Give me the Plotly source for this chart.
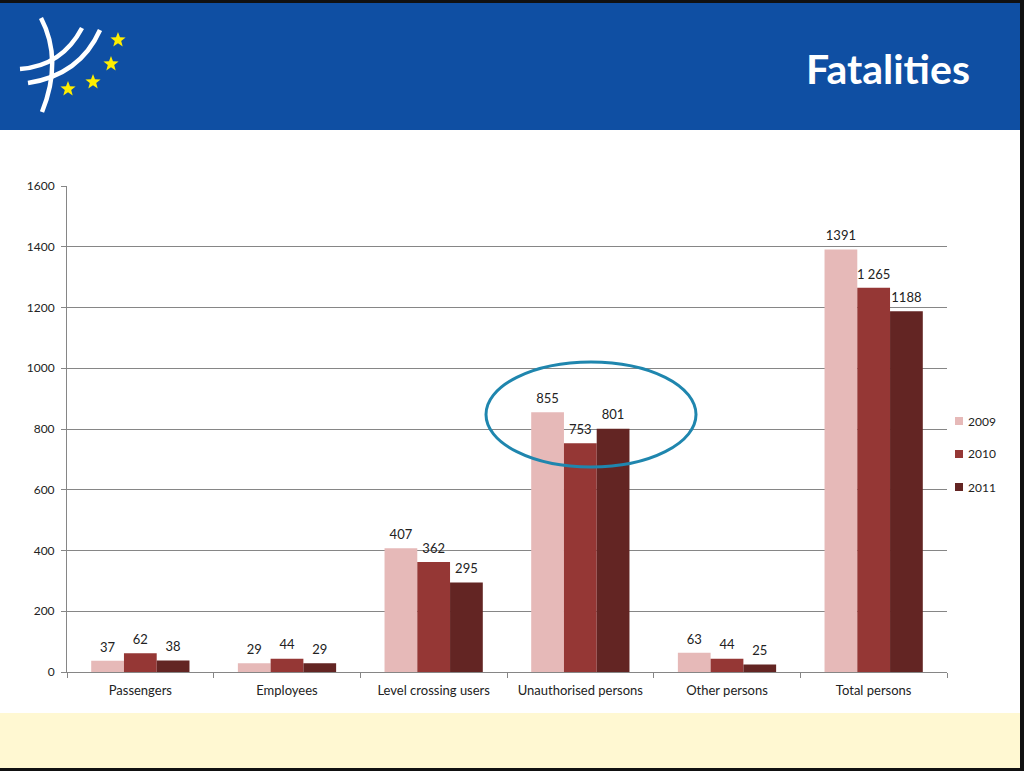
import plotly.graph_objects as go
import math

categories = ["Passengers", "Employees", "Level crossing users",
              "Unauthorised persons", "Other persons", "Total persons"]
years = ["2009", "2010", "2011"]
v2009 = [37, 29, 407, 855, 63, 1391]
v2010 = [62, 44, 362, 753, 44, 1265]
v2011 = [38, 29, 295, 801, 25, 1188]
t2009 = ["37", "29", "407", "855", "63", "1391"]
t2010 = ["62", "44", "362", "753", "44", "1 265"]
t2011 = ["38", "29", "295", "801", "25", "1188"]
colors = ["#E6B9B8", "#953735", "#632523"]
y_ticks = [0, 200, 400, 600, 800, 1000, 1200, 1400, 1600]

W, H = 1024, 771
L, R, T, B = 67, 947, 186, 672
FONT = "Lato"

def px(x):
    return (x - L) / (R - L)

def py(y):
    return (B - y) / (B - T)

fig = go.Figure()
for name, vals, c in zip(years, [v2009, v2010, v2011], colors):
    fig.add_trace(go.Bar(
        x=categories, y=vals, name=name, marker_color=c,
        marker_line_width=0, offsetgroup=name, showlegend=False,
    ))
for name, vals, txt in zip(years, [v2009, v2010, v2011], [t2009, t2010, t2011]):
    fig.add_trace(go.Scatter(
        x=categories, y=vals, text=txt, mode="markers+text", textposition="top center",
        marker=dict(size=8, color="rgba(0,0,0,0)"), hoverinfo="skip",
        offsetgroup=name, cliponaxis=False, showlegend=False,
        textfont=dict(size=13, color="#222", family=FONT),
    ))

shapes = []
annotations = []
# black frame edges
shapes.append(dict(type="rect", xref="paper", yref="paper", x0=px(0), x1=px(W), y0=py(0), y1=py(3),
                   fillcolor="#111", line_width=0, layer="below"))
shapes.append(dict(type="rect", xref="paper", yref="paper", x0=px(1020), x1=px(W), y0=py(0), y1=py(H),
                   fillcolor="#111", line_width=0, layer="below"))
# header band
shapes.append(dict(type="rect", xref="paper", yref="paper", x0=px(0), x1=px(1020), y0=py(3), y1=py(130),
                   fillcolor="#0F4FA3", line_width=0, layer="below"))
# footer band
shapes.append(dict(type="rect", xref="paper", yref="paper", x0=px(0), x1=px(1020), y0=py(713), y1=py(768),
                   fillcolor="#FFF8D2", line_width=0, layer="below"))
shapes.append(dict(type="rect", xref="paper", yref="paper", x0=px(0), x1=px(W), y0=py(768), y1=py(H),
                   fillcolor="#111", line_width=0, layer="below"))

def P(x, y):
    return f"{px(x):.5f},{py(y):.5f}"

# logo white strokes
strokes = [
    f"M{P(41,18)} Q{P(63,60)} {P(42,112)}",
    f"M{P(20,69)} Q{P(62,66)} {P(82,28)}",
    f"M{P(28,83)} Q{P(80,75)} {P(100,30)}",
]
for s in strokes:
    shapes.append(dict(type="path", xref="paper", yref="paper", path=s,
                       line=dict(color="white", width=4.5)))

def star(cx, cy, r):
    pts = []
    for i in range(10):
        ang = -math.pi / 2 + i * math.pi / 5
        rr = r if i % 2 == 0 else r * 0.42
        pts.append(P(cx + rr * math.cos(ang), cy + rr * math.sin(ang)))
    return "M" + " L".join(pts) + " Z"

for (cx, cy) in [(118, 40), (111, 64), (93, 82), (68, 89)]:
    shapes.append(dict(type="path", xref="paper", yref="paper", path=star(cx, cy, 8),
                       fillcolor="#FFEE00", line_width=0))

# highlight ellipse
shapes.append(dict(type="circle", xref="paper", yref="paper",
                   x0=px(486), x1=px(696), y0=py(362), y1=py(467),
                   line=dict(color="#1F86AE", width=3)))

# legend (manual)
for i, (name, c) in enumerate(zip(years, colors)):
    yc = 421 + 33 * i
    shapes.append(dict(type="rect", xref="paper", yref="paper",
                       x0=px(955), x1=px(963), y0=py(yc - 4), y1=py(yc + 4),
                       fillcolor=c, line_width=0))
    annotations.append(dict(text=name, xref="paper", yref="paper", x=px(966), y=py(yc),
                            xanchor="left", yanchor="middle", showarrow=False,
                            font=dict(size=12, color="#222", family=FONT)))

annotations.append(dict(text="<b>Fatalities</b>", xref="paper", yref="paper",
                        x=px(972), y=py(68), xanchor="right", yanchor="middle",
                        showarrow=False, font=dict(size=41, color="white", family=FONT)))

fig.update_layout(
    width=W, height=H,
    margin=dict(l=L, r=W - R, t=T, b=H - B, pad=0, autoexpand=False),
    paper_bgcolor="white", plot_bgcolor="white",
    barmode="group", bargap=0.33, bargroupgap=0,
    scattermode="group", scattergap=0.33,
    font=dict(family=FONT, size=12, color="#222"),
    shapes=shapes, annotations=annotations,
    showlegend=False, hovermode=False,
)
fig.update_xaxes(showline=True, linecolor="#868686", linewidth=1, ticks="outside",
                 tickson="boundaries", ticklen=5, tickcolor="#868686",
                 tickfont=dict(size=13, family=FONT, color="#222"), showgrid=False,
                 ticklabelstandoff=6)
fig.update_yaxes(range=[0, 1600], tickvals=y_ticks, showline=True, linecolor="#868686",
                 linewidth=1, ticks="outside", ticklen=5, tickcolor="#868686",
                 gridcolor="#868686", gridwidth=1, zeroline=False,
                 tickfont=dict(size=12, family=FONT, color="#222"), ticklabelstandoff=4)

fig.write_html("out.html")
